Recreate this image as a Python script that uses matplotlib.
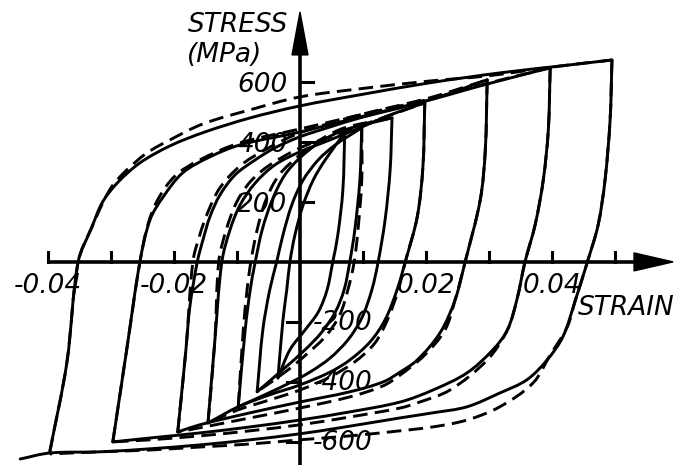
import numpy as np
import matplotlib.pyplot as plt
from matplotlib.path import Path
from matplotlib.patches import PathPatch

# ---- axis ticks and labels ----
strain_ticks = [-0.04, -0.03, -0.02, -0.01, 0.01, 0.02, 0.03, 0.04, 0.05]
strain_labels = ["-0.04", "-0.02", "0.02", "0.04"]
strain_label_pos = [-0.04, -0.02, 0.02, 0.04]
stress_ticks = [600, 400, 200, -200, -400, -600]
stress_labels = ["600", "400", "200", "-200", "-400", "-600"]

# ---- hysteresis loops: (strain, stress MPa), rising and falling branches ----
L1_UP = [(-0.0397, -633), (-0.0370, -337), (-0.0352, 0), (-0.0330, 117), (-0.0314, 197),
         (-0.0290, 263), (-0.0254, 330), (-0.0206, 387), (-0.0151, 433), (-0.0079, 480),
         (0.0, 520), (0.0095, 557), (0.0206, 597), (0.0317, 630), (0.0413, 653), (0.0495, 673)]
L1_DOWN = [(0.0495, 673), (0.0492, 473), (0.0484, 273), (0.0473, 123), (0.0456, 0),
           (0.0437, -127), (0.0417, -250), (0.0392, -327), (0.0360, -393), (0.0317, -437),
           (0.0265, -483), (0.0211, -503), (0.0159, -520), (0.0063, -553), (0.0, -573),
           (-0.0079, -593), (-0.0159, -610), (-0.0238, -623), (-0.0317, -633), (-0.0397, -637),
           (-0.0444, -657)]
L1_UP_D = [(-0.0397, -633), (-0.0370, -337), (-0.0352, 0), (-0.0330, 117), (-0.0302, 240),
           (-0.0278, 300), (-0.0243, 363), (-0.0206, 407), (-0.0154, 460), (-0.0079, 507),
           (0.0, 550), (0.0095, 577), (0.0206, 603), (0.0297, 620), (0.0413, 653), (0.0495, 673)]
L1_DOWN_D = [(0.0495, 673), (0.0492, 473), (0.0484, 273), (0.0473, 123), (0.0456, 0),
             (0.0437, -127), (0.0424, -217), (0.0397, -310), (0.0370, -403), (0.0317, -483),
             (0.0265, -527), (0.0211, -550), (0.0159, -563), (0.0079, -580), (0.0, -593),
             (-0.0079, -607), (-0.0159, -617), (-0.0238, -627), (-0.0317, -633), (-0.0397, -640)]

L2_UP = [(-0.0297, -600), (-0.0275, -293), (-0.0254, 0), (-0.0238, 140), (-0.0217, 217),
         (-0.0186, 297), (-0.0143, 350), (-0.0095, 390), (0.0, 433), (0.0095, 483),
         (0.0206, 540), (0.0297, 593), (0.0397, 647)]
L2_DOWN = [(0.0397, 647), (0.0394, 440), (0.0386, 273), (0.0373, 123), (0.0357, 0),
           (0.0344, -127), (0.0329, -227), (0.0306, -293), (0.0265, -370), (0.0211, -427),
           (0.0159, -467), (0.0079, -500), (0.0, -527), (-0.0079, -550), (-0.0159, -570),
           (-0.0238, -587), (-0.0297, -600)]
L2_UP_D = [(-0.0297, -600), (-0.0275, -293), (-0.0254, 0), (-0.0241, 127), (-0.0225, 210),
           (-0.0198, 287), (-0.0159, 340), (-0.0095, 397), (0.0, 443), (0.0095, 490),
           (0.0206, 543), (0.0297, 595), (0.0397, 647)]
L2_DOWN_D = [(0.0397, 647), (0.0394, 440), (0.0386, 273), (0.0373, 123), (0.0357, 0),
             (0.0344, -127), (0.0329, -227), (0.0297, -327), (0.0238, -427), (0.0186, -470),
             (0.0159, -487), (0.0079, -517), (0.0, -543), (-0.0079, -563), (-0.0159, -580),
             (-0.0238, -593), (-0.0297, -600)]

L3_UP = [(-0.0194, -567), (-0.0181, -293), (-0.0175, -153), (-0.0163, 0), (-0.0154, 73),
         (-0.0143, 150), (-0.0127, 223), (-0.0103, 290), (-0.0071, 340), (-0.0040, 380),
         (0.0, 417), (0.0048, 450), (0.0095, 480), (0.0206, 540), (0.0297, 607)]
L3_DOWN = [(0.0297, 607), (0.0294, 373), (0.0286, 207), (0.0262, 0), (0.0246, -127),
           (0.0222, -237), (0.0186, -327), (0.0159, -367), (0.0132, -400), (0.0079, -433),
           (0.0, -467), (-0.0079, -503), (-0.0159, -543), (-0.0194, -567)]
L3_UP_D = [(-0.0194, -567), (-0.0181, -293), (-0.0170, 0), (-0.0159, 90), (-0.0146, 167),
           (-0.0127, 247), (-0.0095, 320), (-0.0056, 373), (0.0, 430), (0.0095, 490),
           (0.0206, 547), (0.0297, 607)]
L3_DOWN_D = [(0.0297, 607), (0.0294, 373), (0.0286, 207), (0.0262, 0), (0.0246, -127),
             (0.0230, -227), (0.0198, -310), (0.0159, -377), (0.0132, -413), (0.0079, -450),
             (0.0, -487), (-0.0079, -520), (-0.0159, -553), (-0.0194, -567)]

L4_UP = [(-0.0146, -537), (-0.0135, -260), (-0.0124, 0), (-0.0111, 107), (-0.0095, 190),
         (-0.0071, 263), (-0.0040, 323), (0.0, 367), (0.0048, 407), (0.0095, 447),
         (0.0143, 490), (0.0198, 530)]
L4_DOWN = [(0.0198, 530), (0.0195, 317), (0.0186, 150), (0.0167, 0), (0.0154, -93),
           (0.0135, -193), (0.0111, -267), (0.0079, -327), (0.0048, -367), (0.0, -410),
           (-0.0048, -443), (-0.0098, -483), (-0.0146, -537)]
L4_UP_D = [(-0.0146, -537), (-0.0135, -260), (-0.0129, 0), (-0.0117, 107), (-0.0101, 197),
           (-0.0079, 267), (-0.0048, 323), (0.0, 380), (0.0048, 417), (0.0095, 453),
           (0.0198, 530)]
L4_DOWN_D = [(0.0198, 530), (0.0195, 317), (0.0186, 150), (0.0167, 0), (0.0156, -93),
             (0.0140, -187), (0.0119, -270), (0.0087, -333), (0.0048, -383), (0.0, -427),
             (-0.0048, -460), (-0.0098, -493), (-0.0146, -537)]

L5_UP = [(-0.0098, -483), (-0.0087, -227), (-0.0079, -93), (-0.0071, 0), (-0.0060, 107),
         (-0.0044, 207), (-0.0024, 290), (0.0, 347), (0.0032, 400), (0.0071, 440),
         (0.0146, 480)]
L5_DOWN = [(0.0146, 480), (0.0143, 307), (0.0135, 140), (0.0124, 0), (0.0114, -93),
           (0.0098, -187), (0.0076, -260), (0.0048, -320), (0.0016, -367), (-0.0016, -403),
           (-0.0056, -443), (-0.0098, -483)]
L5_UP_D = [(-0.0098, -483), (-0.0090, -227), (-0.0084, -93), (-0.0078, 0), (-0.0068, 107),
           (-0.0054, 207), (-0.0033, 290), (0.0, 357), (0.0032, 407), (0.0071, 447),
           (0.0146, 480)]

L6_UP = [(-0.0068, -433), (-0.0059, -227), (-0.0048, -93), (-0.0037, 0), (-0.0027, 90),
         (-0.0013, 190), (0.0005, 273), (0.0029, 340), (0.0056, 390), (0.0098, 447)]
L6_DOWN = [(0.0098, 447), (0.0095, 273), (0.0087, 107), (0.0079, 0), (0.0070, -93),
           (0.0056, -167), (0.0035, -233), (0.0008, -293), (-0.0024, -353), (-0.0068, -433)]
L6_DOWN_D = [(0.0098, 447), (0.0098, 273), (0.0092, 107), (0.0086, 0), (0.0076, -93),
             (0.0063, -177), (0.0041, -247), (0.0013, -303), (-0.0019, -360), (-0.0068, -433)]

L7_UP = [(-0.0035, -387), (-0.0027, -193), (-0.0021, -93), (-0.0016, 0), (-0.0008, 90),
         (0.0005, 190), (0.0021, 273), (0.0040, 340), (0.0071, 430)]
L7_DOWN = [(0.0071, 430), (0.0068, 240), (0.0060, 90), (0.0052, 0), (0.0043, -93),
           (0.0029, -167), (0.0008, -227), (-0.0016, -293), (-0.0035, -387)]

solid_branches = [L1_UP, L1_DOWN, L2_UP, L2_DOWN, L3_UP, L3_DOWN, L4_UP, L4_DOWN,
                  L5_UP, L5_DOWN, L6_UP, L6_DOWN, L7_UP, L7_DOWN]
dashed_branches = [L1_UP_D, L1_DOWN_D, L2_UP_D, L2_DOWN_D, L3_UP_D, L3_DOWN_D,
                   L4_UP_D, L4_DOWN_D, L5_UP_D, L6_DOWN_D]

XMIN, XMAX, YMIN, YMAX = -0.0476, 0.0595, -677, 873
# rough screen scale so the curve tangents are taken in page units
SX, SY = 675 / (XMAX - XMIN), 465 / (YMAX - YMIN)


def branch_path(pts):
    """Smooth bezier path through the read points of one branch."""
    P = np.array(pts, float) * [SX, SY]
    n = len(P)
    T = np.zeros_like(P)
    for i in range(n):
        d = P[min(i + 1, n - 1)] - P[max(i - 1, 0)]
        T[i] = d / np.linalg.norm(d)
    verts, codes = [P[0]], [Path.MOVETO]
    for i in range(n - 1):
        k = np.linalg.norm(P[i + 1] - P[i]) / 3
        verts += [P[i] + T[i] * k, P[i + 1] - T[i + 1] * k, P[i + 1]]
        codes += [Path.CURVE4] * 3
    return Path(np.array(verts) / [SX, SY], codes)


fig = plt.figure(figsize=(6.75, 4.65), dpi=100)
ax = fig.add_axes([0, 0, 1, 1])
ax.set_xlim(XMIN, XMAX)
ax.set_ylim(YMIN, YMAX)
ax.axis("off")

for br in solid_branches:
    ax.add_patch(PathPatch(branch_path(br), fill=False, ec="black", lw=2.1,
                           joinstyle="round", capstyle="round"))
for br in dashed_branches:
    ax.add_patch(PathPatch(branch_path(br), fill=False, ec="black", lw=2.1,
                           linestyle=(0, (5, 2.5))))

# ---- hand-drawn style axes ----
ax.plot([-0.04, 0.0535], [0, 0], color="black", lw=2.6, solid_capstyle="butt")
ax.fill([0.0530, 0.0592, 0.0530], [-30, 0, 30], color="black")
ax.plot([0, 0], [YMIN, 700], color="black", lw=2.6)
ax.fill([-0.00127, 0, 0.00127], [690, 833, 690], color="black")

for t in strain_ticks:
    ax.plot([t, t], [0, 33], color="black", lw=2.2)
for t in stress_ticks:
    if t > 0:
        ax.plot([0, 0.0021], [t, t], color="black", lw=2.2)
    else:
        ax.plot([-0.0021, 0], [t, t], color="black", lw=2.2)

font = dict(family="DejaVu Sans", style="italic", fontsize=19, color="black")
for lab, pos in zip(strain_labels, strain_label_pos):
    ax.text(pos, -80, lab, ha="center", va="center", **font)
for lab, t in zip(stress_labels, stress_ticks):
    if t > 0:
        ax.text(-0.002, t - 10, lab, ha="right", va="center", **font)
    else:
        ax.text(0.002, t - 5, lab, ha="left", va="center", **font)

ax.text(-0.0019, 790, "STRESS", ha="right", va="center", **font)
ax.text(-0.0060, 690, "(MPa)", ha="right", va="center", **font)
ax.text(0.0595, -153, "STRAIN", ha="right", va="center", **font)

fig.savefig("out.png", dpi=100)
